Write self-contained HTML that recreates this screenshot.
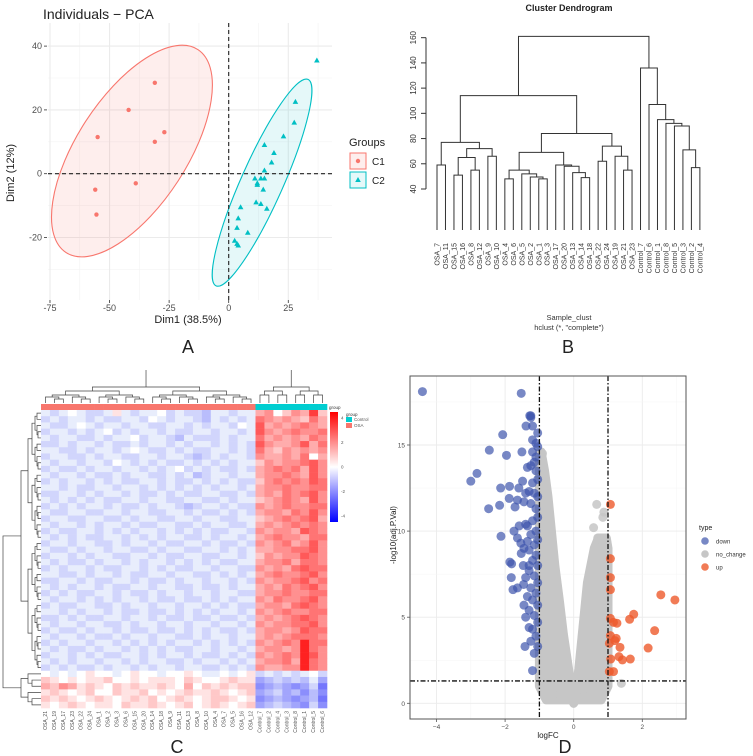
<!DOCTYPE html>
<html><head><meta charset="utf-8">
<style>
html,body{margin:0;padding:0;background:#fff;}
svg{display:block;font-family:"Liberation Sans",sans-serif;}
</style></head>
<body>
<svg id="fig" width="753" height="756" viewBox="0 0 753 756" xmlns="http://www.w3.org/2000/svg">
<defs><clipPath id="hmclip"><rect x="0" y="370" width="376" height="386"/></clipPath></defs>
<rect width="753" height="756" fill="#fff"/>
<g id="pA"></g>
<g id="pB"></g>
<g id="pC" clip-path="url(#hmclip)"></g>
<g id="pD"></g>
</svg>
<script>
// ---------- PCA data ----------
const c1X = [-31,-42,-55,-27,-31,-39,-56,-55.5];
const c1Y = [28.5,20,11.5,13,10,-3,-5,-12.8];
const c2X = [37,28,27.5,23,15,19,18,15,11,13.5,15,12,12,14.5,11.5,13.5,16,5,4,3.5,8,2.5,3.5,4];
const c2Y = [35.5,22.5,16,11.7,9,6.5,3.5,1,-1.5,-1.5,-1.5,-3,-3.5,-5,-9,-9.5,-11,-10.5,-14,-17,-18.5,-21,-22,-22.5];
const pcaXTicks = [-75,-50,-25,0,25];
const pcaYTicks = [-20,0,20,40];
// ---------- Dendrogram data ----------
const dendroTree = [161,
  [114,
    [77,[59,'OSA_7','OSA_11'],[72,[65,[51,'OSA_15','OSA_16'],[55,'OSA_8','OSA_12']],[66,'OSA_9','OSA_10']]],
    [84,[69,[55,[48,'OSA_4','OSA_6'],[52,'OSA_5',[49.5,'OSA_2',[48,'OSA_1','OSA_3']]]],
            [59,'OSA_17',[58,'OSA_20',[53,'OSA_13',[49,'OSA_14','OSA_18']]]]],
        [74,[62,'OSA_22','OSA_24'],[66,'OSA_19',[55,'OSA_21','OSA_23']]]]],
  [136,'Control_7',[107,'Control_6',[95,'Control_1',[92,'Control_8',[90,'Control_5',[71,'Control_3',[57,'Control_2','Control_4']]]]]]]];
const dendroYTicks = [40,60,80,100,120,140,160];
// ---------- Heatmap data ----------
const hmCols = ['OSA_21','OSA_19','OSA_17','OSA_23','OSA_22','OSA_24','OSA_1','OSA_2','OSA_3','OSA_6','OSA_15','OSA_20','OSA_14','OSA_18','OSA_9','OSA_11','OSA_13','OSA_8','OSA_10','OSA_4','OSA_7','OSA_5','OSA_16','OSA_12','Control_7','Control_2','Control_4','Control_3','Control_8','Control_1','Control_5','Control_6'];
const hmGroups = 'OOOOOOOOOOOOOOOOOOOOOOOOCCCCCCCC';
const hmRows = [
'HGHIHGGHJHGHHIGHGGFHHGHHLMIKMLPK','GHGHHGHGGHHGIHGHHGFHGHGHNMLMLKNL','HGGHIHGHHGHHGGHHGHGHHGIHOLMLMNML','GHHGHGHIGHGHHGHGGHHGHHGHOMLMNMMN',
'HGHHGGHGHHIGHHGFHGGGHGHHNLMLMLNM','GGHGHHGHGGHGHHGHGHHGHGHGOMLLMOLN','HHGGHGHHGHIHGGHGHGGHHGHGNLKMLMLM','GHHGGHGHHGGHHGHHGFGHGHHGMLLMLNIL',
'HGHHGHHGIHGHGHGGHGHGHGHHKMLMMNOM','GHGGHGHHGHHGHGHIGHGHGGHGLMNMNLOM','HGHHGHGGHGHHGGHGHFGHHGHHLMMNMLOM','GHGHHGHGHGGHHGHGGHGHGHGGKMNMNMON',
'HHGHGGHHGHHGHGHGHGHGHHGHLMMNMMNN','GGHHGHGHHGHGGHGHGGHHGGHGLMLNMNOM','HGHGHGHGGHHGHHGGHHGGHGHHKLMNMLOM','GHGHGHHGHGGHGHHGFGHHGHGGMLMNMMNN',
'HGGHHGGHHGHHGGHHGHGGHGHGLMMLNMOM','GHHGGHHGGHGHHGGHHGHHGGHHKLMNMNOL','HGHHGHGHHGHGGHHGGHGHHGGHLMLMNMNM','GHGGHHGHGHGHHGHGHGHGGHHGMLMMLONM',
'HGHGHGGHHGHGHGHHGGHGHHGHLMNMMLNN','GHHGHHGGHGHHGHGGHHGHGGHGMLMNLMOM','HGGHGHHGHHGGHGHHGGHHGHGHLLMMNNOM','GHHGHGHHGGHHGHGGHHGGHHGHKMLMMONM',
'HGHGGHGHHGHGHHGHGHGHGGHHLMMNLNNM','GHGHHGHGGHHGHGHGGHHGHHGGMLMLNONN','HHGGHGHHGHGGHHGHHGGHGHGHLMNMMNOM','GGHHGHGGHHGHGGHGHHGHHGHGMLMMNOMN',
'HGHGHHGHGGHHGHHGGHGGHGHHLMLNMNOM','GHGHGGHHGHGGHGHHGHHGHHGGLMMNMMNN','HGHHGHGHGHHGHGGHGGHGHGHHMLNMMNOM','GHGGHHGGHGHHGHHGHHGHGHGGLMMLNONM',
'HHGHGHHGHGGHGGHGHGHGHHGHMLMNMMNN','GGHGHGGHHGHHGHGGHGGHGGHGLMLMNONM','HGHHGHHGGHGHHGHHGHHGHHGHMLMMNNOM','GHGGHGHHGHGGHGGHGHGHGGHGLMMLMONN',
'HGHHGHGGHGHHGHHGGHGHHGHHLMLMNNNM','GHGHHGHHGHGHGHGHHGHGHGHGMLMNMQNN','HGHGGHGHHGHGHGHGGHHGHHGHLMMLMQNM','GHHGHGHGGHHGHGHHGHGGHGHGMLMNMQOM',
'HGHGHHGHHGHGHHGGHGHHGHGHLMMNLQNM','GHGHGGHGHHGHGHHGHHGGHGHGMLLMMQNM','IHIHIJIIHIJIIHIIJIHHIHIJGHGHGHIG','KJIJIJJKIIJIJJJIKJIIJKJJEFGFGFHE',
'LKMLJKJIKJKJJKJILIKJKJKKDEFEDEGC','JKJIJKIIKJJKIJIJKJJKJIJKEFGEFDFD','KJKJIJKJIJKJKIJKJIJKKJIJDEFEDEFC','JIJKJIJJIKJJKJIJKIJKJIJKEFGFEDGD'];
const hmRowDepthHeights = [36,20,13,9,6,4,3,2];
const hmColDepthHeights = [60,16,12,8,6,4,3];
const hmLegendTicks = [4,2,0,-2,-4];
// ---------- Volcano data ----------
const downFC = [-4.41,-1.53,-2.07,-2.46,-1.96,-2.82,-3.0,-2.13,-1.87,-1.6,-1.49,-1.88,-2.16,-2.48,-1.64,-1.71,-2.12,-1.74,-1.64,-1.54,-1.59,-1.86,-1.81,-1.47,-1.82,-1.77,-1.64,-1.46,-1.53,-1.42,-1.39,-1.28,-1.25,-1.51,
 -1.05,-1.05,-1.1,-1.2,-1.15,-1.25,-1.1,-1.05,-1.2,-1.3,-1.15,-1.05,-1.25,-1.1,-1.05,-1.2,-1.35,-1.1,-1.25,-1.05,-1.15,-1.3,-1.1,-1.2,-1.05,-1.3,-1.15,-1.05,-1.25,-1.1,-1.2,-1.05,-1.3,-1.15,-1.05,-1.2,-1.1,-1.25,-1.05,-1.15,-1.2,-1.1,-1.2,-1.25,-1.2,-1.35,-1.4,-1.45,-1.4,-1.35,-1.45,-1.3,-1.4,-1.35,-1.45,-1.4,-1.3];
const downP = [18.1,18.0,15.6,14.7,14.4,13.35,12.9,12.5,12.6,12.5,12.9,11.9,11.5,11.3,11.8,11.4,9.7,10.0,9.6,9.3,10.3,8.2,8.1,8.0,7.3,6.6,6.7,6.9,8.7,3.3,16.1,16.7,16.6,14.6,
 15.7,14.9,14.3,14.6,14.0,13.8,13.5,13.0,12.8,12.3,12.2,12.0,11.6,11.3,10.8,10.6,10.3,10.0,9.8,9.5,9.2,8.9,8.6,8.3,8.0,7.7,7.4,7.0,6.7,6.4,6.0,5.7,5.4,5.1,4.7,4.3,3.9,3.6,3.3,2.9,1.9,15.1,15.3,16.7,16.1,13.7,12.2,11.7,10.4,9.4,9.0,8.0,7.3,6.2,5.7,5.0,4.4];
const upFC = [1.07,1.07,1.07,1.07,2.54,2.95,1.75,1.63,1.07,1.16,1.26,2.36,1.07,1.24,1.2,1.04,1.35,2.17,1.32,1.42,1.65,1.08,1.04,1.16];
const upP = [11.55,8.4,7.3,6.6,6.3,6.0,5.17,4.88,4.93,4.7,4.65,4.22,3.93,3.77,3.64,3.48,3.25,3.21,2.71,2.52,2.57,2.57,1.84,1.84];
const ncFC = [0.67,0.88,0.85,0.58,0.7,0.8,0.9,1.39,-0.91,-0.75,0.72,0.95,-0.6,0.3];
const ncP = [11.55,11.1,10.8,10.2,9.6,9.5,9.6,1.16,14.5,1.3,1.0,1.2,0.5,0.4];
const ncLeftY = [0.2,1,2,4,6,8,10,12,13.5,14.6];
const ncLeftInner = [-0.05,-0.08,-0.15,-0.3,-0.42,-0.55,-0.65,-0.75,-0.85,-0.95];
const ncLeftOuter = [-0.8,-1,-1,-1,-1,-1,-1,-1,-1,-1];
const ncRightY = [0.2,1,2,4,6,7,8,9,9.6];
const ncRightInner = [0.05,0.08,0.15,0.25,0.35,0.4,0.5,0.6,0.72];
const ncRightOuter = [0.8,1,1,1,1,1,1,1,0.95];
const volXTicks = [-4,-2,0,2];
const volYTicks = [0,5,10,15];

const NS='http://www.w3.org/2000/svg';
function mk(parent, tag, attrs, text){
  const e=document.createElementNS(NS,tag);
  for(const k in attrs) e.setAttribute(k,attrs[k]);
  if(text!==undefined) e.textContent=text;
  parent.appendChild(e);
  return e;
}
let el;

// ================= Panel A: PCA =================
(function(){
  const g=document.getElementById('pA');
  const sx=v=>228.7+v*2.383, sy=v=>173.7-v*3.19;
  const L=48,R=332,T=23,B=300;
  for(let v=-87.5; v<=37.5; v+=25){ if(sx(v)>=L&&sx(v)<=R){ el=mk(g,'line',{x1:sx(v),x2:sx(v),y1:T,y2:B,stroke:'#f3f3f3','stroke-width':0.6});
      } }
  for(let v=-30; v<=40; v+=20){ el=mk(g,'line',{x1:L,x2:R,y1:sy(v),y2:sy(v),stroke:'#f3f3f3','stroke-width':0.6});
      }
  pcaXTicks.forEach(v=>{ el=mk(g,'line',{x1:sx(v),x2:sx(v),y1:T,y2:B,stroke:'#ebebeb','stroke-width':1.1});
     
    el=mk(g,'line',{x1:sx(v),x2:sx(v),y1:B,y2:B+3,stroke:'#333','stroke-width':0.8});
     
    el=mk(g,'text',{x:sx(v),y:B+11,'font-size':9,fill:'#4d4d4d','text-anchor':'middle'},String(v));
      });
  pcaYTicks.forEach(v=>{ el=mk(g,'line',{x1:L,x2:R,y1:sy(v),y2:sy(v),stroke:'#ebebeb','stroke-width':1.1});
     
    el=mk(g,'line',{x1:L-4,x2:L-1,y1:sy(v),y2:sy(v),stroke:'#333','stroke-width':0.8});
     
    el=mk(g,'text',{x:L-6,y:sy(v)+3,'font-size':9,fill:'#4d4d4d','text-anchor':'end'},String(v));
      });
  el=mk(g,'ellipse',{cx:sx(-40.6),cy:sy(7.1),rx:121,ry:55,transform:`rotate(-57 ${sx(-40.6)} ${sy(7.1)})`,fill:'rgba(248,118,109,0.12)',stroke:'#F8766D','stroke-width':1.1});
   
  el=mk(g,'ellipse',{cx:sx(14),cy:sy(-2.8),rx:113,ry:21,transform:`rotate(-66 ${sx(14)} ${sy(-2.8)})`,fill:'rgba(0,191,196,0.1)',stroke:'#00BFC4','stroke-width':1.1});
   
  el=mk(g,'line',{x1:L,x2:R,y1:sy(0),y2:sy(0),stroke:'#222','stroke-width':1.1,'stroke-dasharray':'4,3'});
   
  el=mk(g,'line',{x1:sx(0),x2:sx(0),y1:T,y2:B,stroke:'#222','stroke-width':1.1,'stroke-dasharray':'4,3'});
   
  c1X.forEach((x,i)=>{ el=mk(g,'circle',{cx:sx(x),cy:sy(c1Y[i]),r:2.2,fill:'#F8766D'});
      });
  c2X.forEach((x,i)=>{ const px=sx(x),py=sy(c2Y[i]);
    el=mk(g,'polygon',{points:`${px},${py-3} ${px-2.8},${py+2} ${px+2.8},${py+2}`,fill:'#00BFC4'});
      });
  el=mk(g,'text',{x:43,y:19,'font-size':14,fill:'#222'},'Individuals − PCA');
   
  el=mk(g,'text',{x:188,y:323,'font-size':11,fill:'#222','text-anchor':'middle'},'Dim1 (38.5%)');
   
  el=mk(g,'text',{x:14,y:173,'font-size':11,fill:'#222','text-anchor':'middle',transform:'rotate(-90 14 173)'},'Dim2 (12%)');
   
  el=mk(g,'text',{x:349,y:146,'font-size':11,fill:'#222'},'Groups');
   
  el=mk(g,'rect',{x:350,y:153,width:16,height:16,fill:'rgba(248,118,109,0.12)',stroke:'#F8766D','stroke-width':1});
   
  el=mk(g,'circle',{cx:358,cy:161,r:2.2,fill:'#F8766D'});
   
  el=mk(g,'text',{x:372,y:165,'font-size':10,fill:'#222'},'C1');
   
  el=mk(g,'rect',{x:350,y:172,width:16,height:16,fill:'rgba(0,191,196,0.1)',stroke:'#00BFC4','stroke-width':1});
   
  el=mk(g,'polygon',{points:'358,177 355.2,182 360.8,182',fill:'#00BFC4'});
   
  el=mk(g,'text',{x:372,y:184,'font-size':10,fill:'#222'},'C2');
   
  el=mk(g,'text',{x:188,y:353,'font-size':18,fill:'#222','text-anchor':'middle'},'A');
   
})();

// ================= Panel B: Dendrogram =================
(function(){
  const g=document.getElementById('pB');
  const sy=v=>189-(v-40)*1.261;
  const leafY=230, x0=437, dx=8.48;
  let idx=0;
  function layout(n){
    if(typeof n==='string'){ const x=x0+dx*(idx++);
      el=mk(g,'text',{x:x+2.5,y:243,'font-size':7,fill:'#333','text-anchor':'end',transform:`rotate(-90 ${x+2.5} 243)`},n);
       
      return {x:x,y:leafY}; }
    const a=layout(n[1]), b=layout(n[2]), y=sy(n[0]);
    el=mk(g,'path',{d:`M${a.x},${a.y}V${y}H${b.x}V${b.y}`,fill:'none',stroke:'#333','stroke-width':1});
     
    return {x:(a.x+b.x)/2,y:y};
  }
  layout(dendroTree);
  el=mk(g,'line',{x1:426,x2:426,y1:sy(160),y2:sy(40),stroke:'#333','stroke-width':1});
   
  dendroYTicks.forEach(v=>{
    el=mk(g,'line',{x1:421,x2:426,y1:sy(v),y2:sy(v),stroke:'#333','stroke-width':1});
     
    el=mk(g,'text',{x:416,y:sy(v),'font-size':8,fill:'#333','text-anchor':'middle',transform:`rotate(-90 416 ${sy(v)})`},String(v));
     
  });
  el=mk(g,'text',{x:569,y:11,'font-size':9,'font-weight':'bold',fill:'#222','text-anchor':'middle'},'Cluster Dendrogram');
   
  el=mk(g,'text',{x:569,y:320,'font-size':7.5,fill:'#333','text-anchor':'middle'},'Sample_clust');
   
  el=mk(g,'text',{x:569,y:330,'font-size':7.5,fill:'#333','text-anchor':'middle'},'hclust (*, "complete")');
   
  el=mk(g,'text',{x:568,y:353,'font-size':18,fill:'#222','text-anchor':'middle'},'B');
   
})();

// ================= Panel C: Heatmap =================
(function(){
  const g=document.getElementById('pC');
  const L=41,R=327,T=410,B=708;
  const nc=hmCols.length, nr=hmRows.length;
  const cw=(R-L)/nc, rh=(B-T)/nr;
  function col(v){
    if(v>=0){ const t=Math.min(1,v/4.6); const c=Math.round(255*(1-t)); return `rgb(255,${c},${c})`; }
    const t=Math.min(1,-v/5.5); const c=Math.round(255*(1-t)); return `rgb(${c},${Math.round(c*1.02)>255?255:Math.round(c*1.02)},252)`; }
  hmRows.forEach((row,r)=>{
    for(let c=0;c<nc;c++){ const v=(row.charCodeAt(c)-73)*0.5;
      el=mk(g,'rect',{x:L+c*cw,y:T+r*rh,width:cw+0.3,height:rh+0.3,fill:col(v)});
        }
  });
  for(let c=0;c<nc;c++){
    el=mk(g,'rect',{x:L+c*cw,y:404,width:cw+0.3,height:6,fill:hmGroups[c]==='O'?'#F8766D':'#00CED1'});
     
    const x=L+c*cw+cw/2+1.5;
    el=mk(g,'text',{x:x,y:711,'font-size':5,fill:'#555','text-anchor':'end',transform:`rotate(-90 ${x} 711)`},hmCols[c]);
     
  }
  function rowTree(lo,hi,d){
    if(hi-lo===1) return {y:T+lo*rh+rh/2,x:L};
    const mid = d===0? 42 : Math.floor((lo+hi)/2);
    const a=rowTree(lo,mid,d+1), b=rowTree(mid,hi,d+1);
    const x=L-hmRowDepthHeights[Math.min(d,hmRowDepthHeights.length-1)]-(d===0?2:0);
    el=mk(g,'path',{d:`M${a.x},${a.y}H${x}V${b.y}H${b.x}`,fill:'none',stroke:'#444','stroke-width':0.7});
     
    return {x:x,y:(a.y+b.y)/2};
  }
  rowTree(0,nr,0);
  function colTree(lo,hi,d){
    if(hi-lo===1) return {x:L+lo*cw+cw/2,y:403};
    const mid = d===0? 24 : Math.floor((lo+hi)/2);
    const a=colTree(lo,mid,d+1), b=colTree(mid,hi,d+1);
    const y=403-hmColDepthHeights[Math.min(d,hmColDepthHeights.length-1)];
    el=mk(g,'path',{d:`M${a.x},${a.y}V${y}H${b.x}V${b.y}`,fill:'none',stroke:'#444','stroke-width':0.7});
     
    return {x:(a.x+b.x)/2,y:y};
  }
  colTree(0,nc,0);
  const lg=mk(g,'defs',{});
  const grad=mk(lg,'linearGradient',{id:'hmgrad',x1:0,y1:0,x2:0,y2:1});
  mk(grad,'stop',{offset:'0','stop-color':'#ff0000'});
  mk(grad,'stop',{offset:'0.5','stop-color':'#ffffff'});
  mk(grad,'stop',{offset:'1','stop-color':'#0000ff'});
  el=mk(g,'rect',{x:330,y:412,width:8,height:110,fill:'url(#hmgrad)'});
   
  hmLegendTicks.forEach(v=>{
    const y=467-v*12.2;
    el=mk(g,'text',{x:341,y:y+1.5,'font-size':4.5,fill:'#555'},String(v));
     
  });
  el=mk(g,'text',{x:329,y:409,'font-size':4.5,fill:'#333'},'group');
   
  el=mk(g,'text',{x:346,y:416,'font-size':4.5,fill:'#333'},'group');
   
  el=mk(g,'rect',{x:346,y:417,width:6,height:5,fill:'#00CED1'});
   
  el=mk(g,'text',{x:354,y:421,'font-size':4.5,fill:'#555'},'Control');
   
  el=mk(g,'rect',{x:346,y:423,width:6,height:5,fill:'#F8766D'});
   
  el=mk(g,'text',{x:354,y:427,'font-size':4.5,fill:'#555'},'OSA');
   
  el=mk(g,'text',{x:177,y:753,'font-size':18,fill:'#222','text-anchor':'middle'},'C');
   
})();

// ================= Panel D: Volcano =================
(function(){
  const g=document.getElementById('pD');
  const sx=v=>573.7+v*34.3, sy=v=>703.3-v*17.22;
  const L=410,R=686,T=376,B=719;
  for(let v=-5;v<=3;v+=1){ if(sx(v)>L&&sx(v)<R){
    el=mk(g,'line',{x1:sx(v),x2:sx(v),y1:T,y2:B,stroke:v%2===0?'#ebebeb':'#f5f5f5','stroke-width':v%2===0?0.9:0.5});
      } }
  for(let v=0;v<=17.5;v+=2.5){
    el=mk(g,'line',{x1:L,x2:R,y1:sy(v),y2:sy(v),stroke:v%5===0?'#ebebeb':'#f5f5f5','stroke-width':v%5===0?0.9:0.5});
      }
  const pts=[];
  for(let i=ncLeftY.length-1;i>=0;i--) pts.push([sx(ncLeftOuter[i]),sy(ncLeftY[i])]);
  for(let i=0;i<ncRightY.length;i++) pts.push([sx(ncRightOuter[i]),sy(ncRightY[i])]);
  for(let i=ncRightY.length-1;i>=0;i--) pts.push([sx(ncRightInner[i]),sy(ncRightY[i])]);
  pts.push([sx(0),sy(0)]);
  for(let i=0;i<ncLeftY.length;i++) pts.push([sx(ncLeftInner[i]),sy(ncLeftY[i])]);
  el=mk(g,'polygon',{points:pts.map(p=>p.join(',')).join(' '),fill:'#c6c6c6',stroke:'#c6c6c6','stroke-width':9,'stroke-linejoin':'round'});
   
  ncFC.forEach((x,i)=>{ el=mk(g,'circle',{cx:sx(x),cy:sy(ncP[i]),r:4.5,fill:'#c6c6c6','fill-opacity':0.85});
      });
  downFC.forEach((x,i)=>{ el=mk(g,'circle',{cx:sx(x),cy:sy(downP[i]),r:4.5,fill:'#3f55ad','fill-opacity':0.7});
      });
  upFC.forEach((x,i)=>{ el=mk(g,'circle',{cx:sx(x),cy:sy(upP[i]),r:4.5,fill:'#ee5a2c','fill-opacity':0.8});
      });
  [-1,1].forEach(v=>{ el=mk(g,'line',{x1:sx(v),x2:sx(v),y1:T,y2:B,stroke:'#111','stroke-width':1.3,'stroke-dasharray':'5,2,1.5,2'});
      });
  el=mk(g,'line',{x1:L,x2:R,y1:sy(1.3),y2:sy(1.3),stroke:'#111','stroke-width':1.3,'stroke-dasharray':'5,2,1.5,2'});
   
  el=mk(g,'rect',{x:L,y:T,width:R-L,height:B-T,fill:'none',stroke:'#555','stroke-width':1});
   
  volXTicks.forEach(v=>{
    el=mk(g,'line',{x1:sx(v),x2:sx(v),y1:B,y2:B+3,stroke:'#555','stroke-width':0.8});
     
    el=mk(g,'text',{x:sx(v),y:B+10,'font-size':6.5,fill:'#4d4d4d','text-anchor':'middle'},v<0?'−'+(-v):String(v));
      });
  volYTicks.forEach(v=>{
    el=mk(g,'line',{x1:L-3,x2:L,y1:sy(v),y2:sy(v),stroke:'#555','stroke-width':0.8});
     
    el=mk(g,'text',{x:L-5,y:sy(v)+2.5,'font-size':6.5,fill:'#4d4d4d','text-anchor':'end'},String(v));
      });
  el=mk(g,'text',{x:548,y:738,'font-size':8,fill:'#222','text-anchor':'middle'},'logFC');
   
  el=mk(g,'text',{x:396,y:535,'font-size':8,fill:'#222','text-anchor':'middle',transform:'rotate(-90 396 535)'},'-log10(adj.P.Val)');
   
  el=mk(g,'text',{x:699,y:530,'font-size':7,fill:'#222'},'type');
   
  [['down','#3f55ad',0.7],['no_change','#c6c6c6',1],['up','#ee5a2c',0.8]].forEach((e,i)=>{
    el=mk(g,'circle',{cx:705,cy:541+i*13,r:3.8,fill:e[1],'fill-opacity':e[2]});
     
    el=mk(g,'text',{x:716,y:543.5+i*13,'font-size':6,fill:'#333'},e[0]);
     
  });
  el=mk(g,'text',{x:565,y:753,'font-size':18,fill:'#222','text-anchor':'middle'},'D');
   
})();
</script>
</body></html>
